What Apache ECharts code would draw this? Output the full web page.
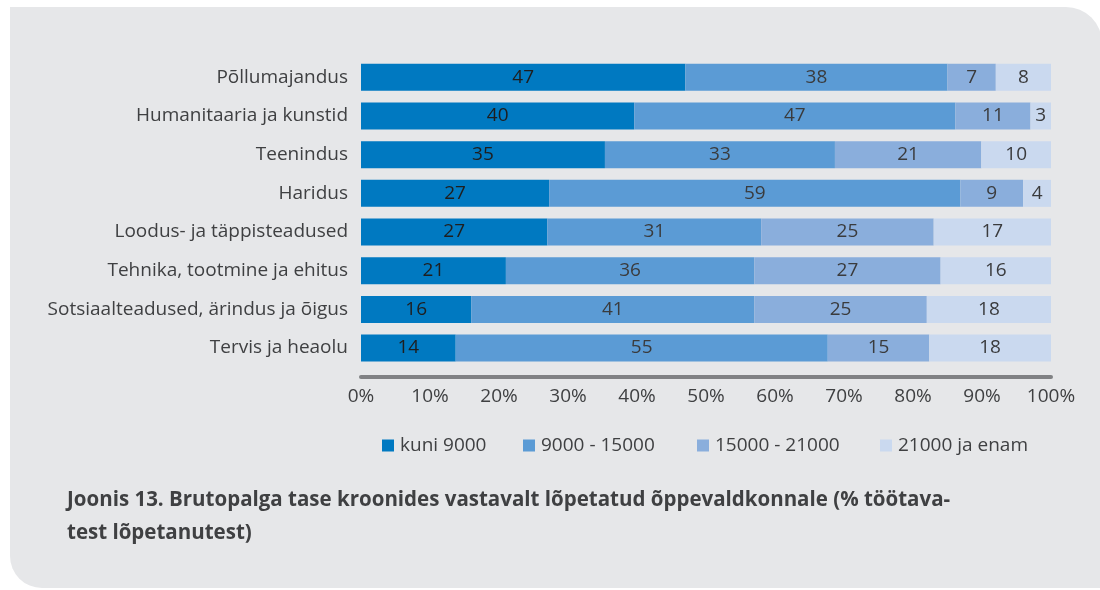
<!DOCTYPE html>
<html><head><meta charset="utf-8">
<script src="https://cdn.jsdelivr.net/npm/echarts@6/dist/echarts.min.js"></script>
<style>html,body{margin:0;padding:0;background:#fff}#c{width:1100px;height:590px}</style>
</head><body><div id="c"></div>
<script>
const categories = ["Põllumajandus","Humanitaaria ja kunstid","Teenindus","Haridus","Loodus- ja täppisteadused","Tehnika, tootmine ja ehitus","Sotsiaalteadused, ärindus ja õigus","Tervis ja heaolu"];
const seriesNames = ["kuni 9000","9000 - 15000","15000 - 21000","21000 ja enam"];
const kuni9000 = [47,40,35,27,27,21,16,14];
const s9000_15000 = [38,47,33,59,31,36,41,55];
const s15000_21000 = [7,11,21,9,25,27,25,15];
const s21000enam = [8,3,10,4,17,16,18,18];
const xTicks = [0,10,20,30,40,50,60,70,80,90,100];
const colors = ["#0079c1","#5b9bd5","#8aaedc","#cad9ef"];
const titleText = "Joonis 13. Brutopalga tase kroonides vastavalt lõpetatud õppevaldkonnale (% töötava-\ntest lõpetanutest)";

const raw = [kuni9000, s9000_15000, s15000_21000, s21000enam];
const sums = categories.map((_, i) => raw.reduce((a, s) => a + s[i], 0));
const FONT = "Open Sans";
const legendLefts = [382, 523, 697, 880];

const chart = echarts.init(document.getElementById('c'));
chart.setOption({
  animation: false,
  textStyle: {fontFamily: FONT},
  graphic: [{
    type: 'rect', z: -10, silent: true,
    shape: {x: 10, y: 7, width: 1092, height: 581, r: [0, 36, 0, 32]},
    style: {fill: '#e6e7e9'}
  }],
  title: {
    text: titleText, left: 62, top: 479,
    textStyle: {fontFamily: FONT, fontWeight: 'bold', fontSize: 20.5, color: '#3f4042', lineHeight: 33}
  },
  legend: seriesNames.map((n, k) => ({
    left: legendLefts[k], top: 436, padding: 0, icon: 'rect', itemWidth: 12, itemHeight: 12,
    textStyle: {fontFamily: FONT, fontSize: 19, color: '#3f4042', padding: [0,0,0,1]},
    data: [n]
  })),
  grid: {left: 361, right: 49, top: 58, bottom: 222.6, containLabel: false},
  xAxis: {
    type: 'value', min: 0, max: 100, interval: 10, offset: 9,
    axisLine: {show: true, lineStyle: {color: '#808184', width: 4, cap: 'round'}},
    axisTick: {show: false}, splitLine: {show: false},
    axisLabel: {margin: 11, fontSize: 19, color: '#3f4042', fontFamily: FONT,
      formatter: v => xTicks.includes(v) ? v + '%' : ''}
  },
  yAxis: {
    type: 'category', data: categories, inverse: true,
    axisLine: {show: false}, axisTick: {show: false},
    axisLabel: {margin: 13, fontSize: 19, color: '#3f4042', fontFamily: FONT}
  },
  series: raw.map((arr, k) => ({
    name: seriesNames[k], type: 'bar', stack: 'a', barWidth: 27,
    itemStyle: {color: colors[k]},
    label: {show: true, position: 'inside', fontSize: 19, color: k === 0 ? '#1e1e1e' : '#3a3b3d', fontFamily: FONT,
      formatter: p => arr[p.dataIndex]},
    data: arr.map((v, i) => v / sums[i] * 100)
  }))
});
</script></body></html>
